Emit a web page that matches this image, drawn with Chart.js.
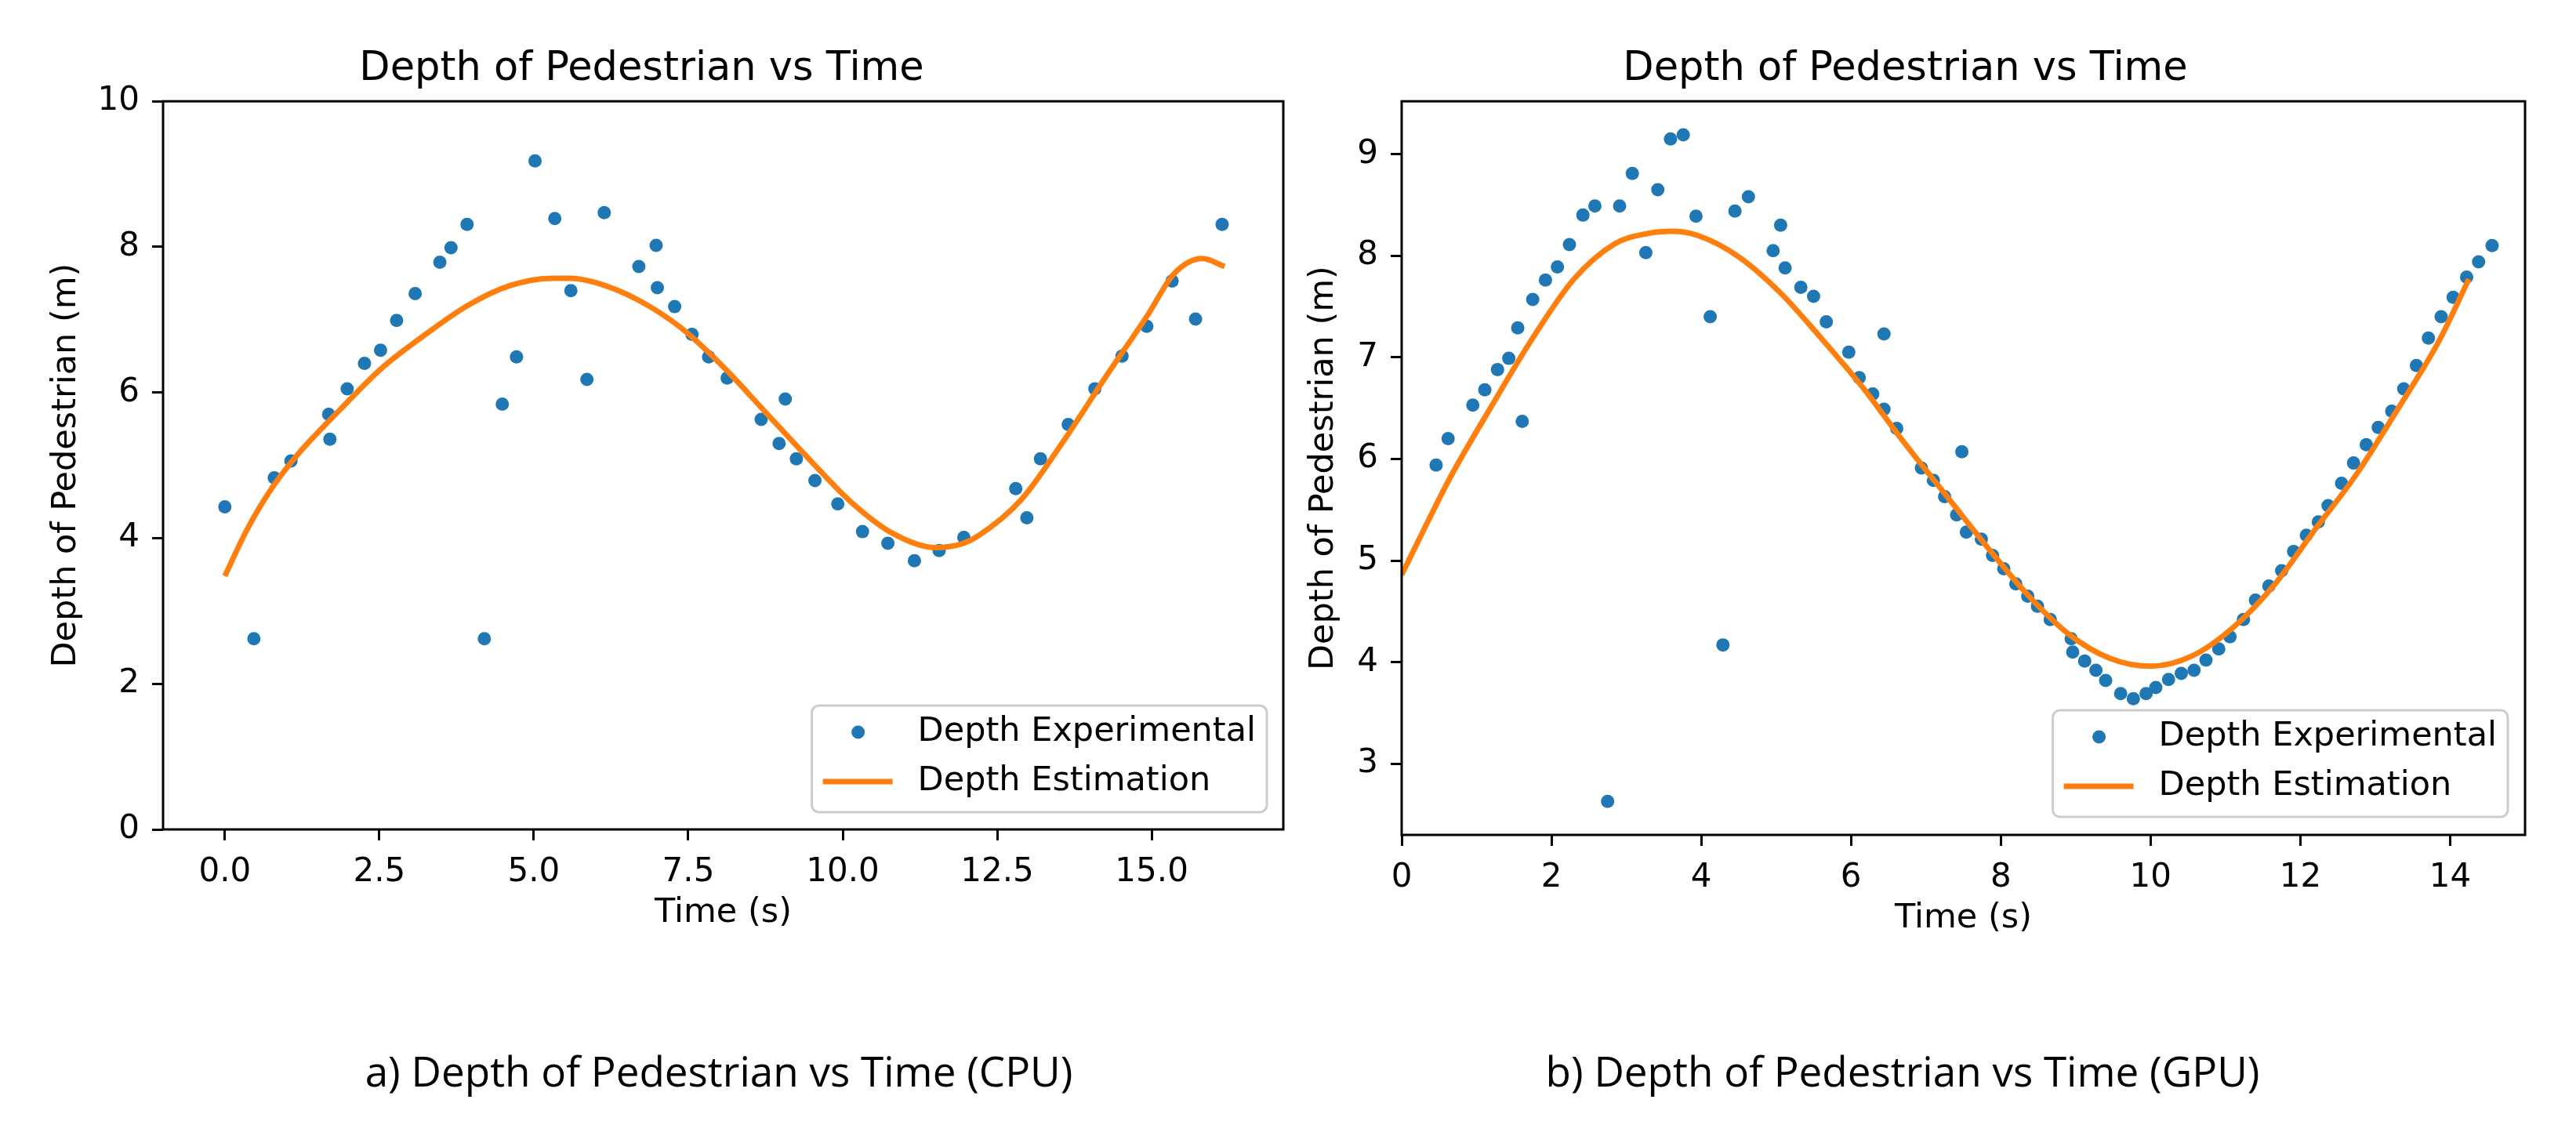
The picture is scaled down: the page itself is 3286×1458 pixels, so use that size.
<!DOCTYPE html>
<html>
<head>
<meta charset="utf-8">
<script src="https://cdn.jsdelivr.net/npm/chart.js@4.4.1/dist/chart.umd.min.js"></script>
<style>
  body { margin: 0; background: #fff; width: 3286px; height: 1458px; position: relative; overflow: hidden; }
  canvas { position: absolute; top: 0; }
  #cpuChart { left: 0; }
  #gpuChart { left: 1640px; }
  .caption { position: absolute; top: 1334px; font-family: "Open Sans", sans-serif; font-size: 53px; line-height: 1.2; color: #000; white-space: nowrap; transform: translateX(-50%); }
</style>
</head>
<body>
<canvas id="cpuChart" width="1700" height="1250"></canvas>
<canvas id="gpuChart" width="1646" height="1250"></canvas>
<div class="caption" style="left:917px">a) Depth of Pedestrian vs Time (CPU)</div>
<div class="caption" style="left:2427px">b) Depth of Pedestrian vs Time (GPU)</div>
<script>
// CPU run: measured points
const cpuTime = [0, 0.47, 0.80, 1.07, 1.68, 1.70, 1.98, 2.26, 2.52, 2.78, 3.08, 3.48, 3.66, 3.92, 4.20, 4.49, 4.72, 5.02, 5.34, 5.60,
  5.86, 6.14, 6.70, 6.98, 7.00, 7.28, 7.56, 7.83, 8.13, 8.68, 8.97, 9.07, 9.25, 9.55, 9.92, 10.32, 10.73, 11.16, 11.56, 11.96,
  12.80, 12.98, 13.20, 13.65, 14.08, 14.52, 14.92, 15.33, 15.71, 16.14];
const cpuDepth = [4.43, 2.62, 4.83, 5.06, 5.70, 5.36, 6.05, 6.40, 6.58, 6.99, 7.36, 7.79, 7.99, 8.31, 2.62, 5.84, 6.49, 9.18, 8.39, 7.40,
  6.18, 8.47, 7.73, 8.02, 7.44, 7.18, 6.80, 6.49, 6.20, 5.63, 5.30, 5.91, 5.09, 4.79, 4.47, 4.09, 3.93, 3.69, 3.83, 4.01,
  4.68, 4.28, 5.09, 5.56, 6.05, 6.50, 6.91, 7.53, 7.01, 8.31];
// CPU run: estimation curve
const cpuEstTime = [0, 0.36, 0.77, 1.18, 1.87, 2.56, 3.25, 3.94, 4.62, 5.31, 5.58, 6.0, 6.69, 7.38, 8.07, 8.75, 9.44, 10.13,
  10.82, 11.51, 11.92, 12.19, 12.88, 13.57, 14.26, 14.94, 15.36, 15.82, 16.18];
const cpuEstDepth = [3.48, 4.12, 4.70, 5.15, 5.77, 6.35, 6.80, 7.20, 7.47, 7.57, 7.57, 7.51, 7.27, 6.89, 6.35, 5.73, 5.10, 4.50,
  4.06, 3.87, 3.92, 4.03, 4.52, 5.33, 6.22, 7.07, 7.63, 7.84, 7.73];

// GPU run: measured points
const gpuTime = [0.46, 0.62, 0.95, 1.11, 1.28, 1.43, 1.55, 1.61, 1.75, 1.92, 2.08, 2.24, 2.42, 2.58, 2.75, 2.91, 3.08, 3.26, 3.42, 3.59,
  3.76, 3.93, 4.12, 4.29, 4.45, 4.63, 4.96, 5.06, 5.12, 5.33, 5.50, 5.67, 5.97, 6.11, 6.29, 6.44, 6.44, 6.61, 6.94, 7.10,
  7.25, 7.41, 7.48, 7.54, 7.74, 7.89, 8.04, 8.20, 8.36, 8.49, 8.66, 8.94, 8.96, 9.12, 9.27, 9.40, 9.60, 9.77, 9.94, 10.07,
  10.24, 10.41, 10.58, 10.74, 10.91, 11.06, 11.24, 11.40, 11.58, 11.75, 11.91, 12.08, 12.24, 12.37, 12.55, 12.71, 12.88, 13.04,
  13.22, 13.38, 13.55, 13.71, 13.88, 14.04, 14.22, 14.38, 14.56];
const gpuDepth = [5.94, 6.20, 6.53, 6.68, 6.88, 6.99, 7.29, 6.37, 7.57, 7.76, 7.89, 8.11, 8.40, 8.49, 2.63, 8.49, 8.81, 8.03, 8.65, 9.15,
  9.19, 8.39, 7.40, 4.17, 8.44, 8.58, 8.05, 8.30, 7.88, 7.69, 7.60, 7.35, 7.05, 6.80, 6.64, 7.23, 6.49, 6.30, 5.91, 5.79,
  5.63, 5.45, 6.07, 5.28, 5.21, 5.05, 4.92, 4.77, 4.65, 4.55, 4.42, 4.23, 4.10, 4.01, 3.92, 3.82, 3.69, 3.64, 3.69, 3.75,
  3.83, 3.89, 3.92, 4.02, 4.13, 4.25, 4.42, 4.61, 4.75, 4.90, 5.09, 5.25, 5.38, 5.54, 5.76, 5.96, 6.14, 6.31,
  6.47, 6.69, 6.92, 7.19, 7.40, 7.59, 7.79, 7.94, 8.10];
// GPU run: estimation curve
const gpuEstTime = [0, 0.32, 0.65, 1.20, 1.75, 2.30, 2.85, 3.29, 3.60, 3.95, 4.50, 5.05, 5.60, 6.15, 6.70, 7.25, 7.80, 8.35,
  8.90, 9.45, 10.0, 10.55, 11.10, 11.65, 12.20, 12.75, 13.30, 13.85, 14.25];
const gpuEstDepth = [4.86, 5.34, 5.82, 6.52, 7.19, 7.77, 8.12, 8.22, 8.24, 8.20, 7.99, 7.64, 7.19, 6.71, 6.17, 5.66, 5.15, 4.67,
  4.28, 4.04, 3.96, 4.06, 4.34, 4.76, 5.31, 5.85, 6.49, 7.16, 7.77];

const chartTitle = 'Depth of Pedestrian vs Time';
const xTitle = 'Time (s)';
const yTitle = 'Depth of Pedestrian (m)';
const labelPoints = 'Depth Experimental';
const labelLine = 'Depth Estimation';

const FONT = '"DejaVu Sans", sans-serif';
const BLUE = '#1f77b4';
const ORANGE = '#ff7f0e';
const DOT_R = 8.5;
const LINE_W = 7;

// frame around the plot area and matplotlib-like legend
const frameAndLegend = {
  id: 'frameAndLegend',
  afterDatasetsDraw(chart, args, opts) {
    const { ctx, chartArea: a } = chart;
    ctx.save();
    ctx.strokeStyle = '#000';
    ctx.lineWidth = 3;
    ctx.strokeRect(a.left, a.top, a.right - a.left, a.bottom - a.top);

    ctx.font = '43px ' + FONT;
    const texts = [labelPoints, labelLine];
    const textW = Math.max(...texts.map(t => ctx.measureText(t).width));
    const right = a.right - opts.right;
    const bottom = a.bottom - opts.bottom;
    const w = 135 + textW + 14;
    const h = 136;
    const left = right - w;
    const top = bottom - h;
    ctx.beginPath();
    ctx.roundRect(left, top, w, h, 9);
    ctx.fillStyle = 'rgba(255,255,255,0.8)';
    ctx.fill();
    ctx.strokeStyle = '#cccccc';
    ctx.lineWidth = 3;
    ctx.stroke();

    const y1 = top + 34, y2 = top + 97;
    ctx.fillStyle = BLUE;
    ctx.beginPath();
    ctx.arc(left + 59, y1, DOT_R, 0, Math.PI * 2);
    ctx.fill();
    ctx.strokeStyle = ORANGE;
    ctx.lineWidth = LINE_W;
    ctx.beginPath();
    ctx.moveTo(left + 14, y2);
    ctx.lineTo(left + 103, y2);
    ctx.stroke();

    ctx.fillStyle = '#000';
    ctx.textBaseline = 'middle';
    ctx.textAlign = 'left';
    ctx.fillText(labelPoints, left + 135, y1);
    ctx.fillText(labelLine, left + 135, y2);
    ctx.restore();
  }
};

function axisTicks(cb) {
  return {
    color: '#000',
    font: { family: FONT, size: 42 },
    padding: 16,
    maxRotation: 0,
    autoSkip: false,
    includeBounds: false,
    callback: cb
  };
}

function makeChart(id, s) {
  return new Chart(document.getElementById(id), {
    type: 'scatter',
    data: {
      datasets: [
        {
          label: labelPoints,
          data: s.t.map((v, i) => ({ x: v, y: s.d[i] })),
          backgroundColor: BLUE,
          borderColor: BLUE,
          pointRadius: DOT_R,
          pointBorderWidth: 0,
          showLine: false,
          order: 2
        },
        {
          label: labelLine,
          data: s.et.map((v, i) => ({ x: v, y: s.ed[i] })),
          borderColor: ORANGE,
          backgroundColor: ORANGE,
          borderWidth: LINE_W,
          pointRadius: 0,
          showLine: true,
          cubicInterpolationMode: 'monotone',
          order: 1
        }
      ]
    },
    options: {
      responsive: false,
      animation: false,
      devicePixelRatio: 1,
      layout: { padding: { left: 0, right: s.padRight, top: 0, bottom: s.padBottom } },
      scales: {
        x: {
          type: 'linear',
          min: s.xMin, max: s.xMax,
          afterFit: scale => { scale.height = 133; },
          grid: { drawOnChartArea: false, drawTicks: true, tickLength: 14, tickWidth: 3, tickColor: '#000' },
          border: { display: false },
          ticks: Object.assign(axisTicks(s.xFmt), { stepSize: s.xStep }),
          title: { display: true, text: xTitle, color: '#000', font: { family: FONT, size: 43 }, padding: { top: 0, bottom: 0 } }
        },
        y: {
          type: 'linear',
          min: s.yMin, max: s.yMax,
          afterFit: scale => { scale.width = s.yWidth; },
          grid: { drawOnChartArea: false, drawTicks: true, tickLength: 14, tickWidth: 3, tickColor: '#000' },
          border: { display: false },
          ticks: Object.assign(axisTicks(v => v.toFixed(0)), { stepSize: s.yStep }),
          title: { display: true, text: yTitle, color: '#000', font: { family: FONT, size: 43 }, padding: { top: s.yTitlePad, bottom: 0 } }
        }
      },
      plugins: {
        legend: { display: false },
        tooltip: { enabled: false },
        title: {
          display: true,
          text: chartTitle,
          color: '#000',
          font: { family: FONT, size: 51, weight: 'normal' },
          padding: { top: 58, bottom: 10 }
        },
        frameAndLegend: s.legend
      }
    },
    plugins: [frameAndLegend]
  });
}

makeChart('cpuChart', {
  t: cpuTime, d: cpuDepth, et: cpuEstTime, ed: cpuEstDepth,
  xMin: -1.0, xMax: 17.13, xStep: 2.5, xFmt: v => v.toFixed(1),
  yMin: 0, yMax: 10, yStep: 2,
  yWidth: 208, yTitlePad: 59, padRight: 63, padBottom: 59,
  legend: { right: 21, bottom: 22 }
});

makeChart('gpuChart', {
  t: gpuTime, d: gpuDepth, et: gpuEstTime, ed: gpuEstDepth,
  xMin: 0, xMax: 15, xStep: 2, xFmt: v => v.toFixed(0),
  yMin: 2.30, yMax: 9.52, yStep: 1,
  yWidth: 148, yTitlePad: 23, padRight: 65, padBottom: 52,
  legend: { right: 22, bottom: 23 }
});
</script>
</body>
</html>
